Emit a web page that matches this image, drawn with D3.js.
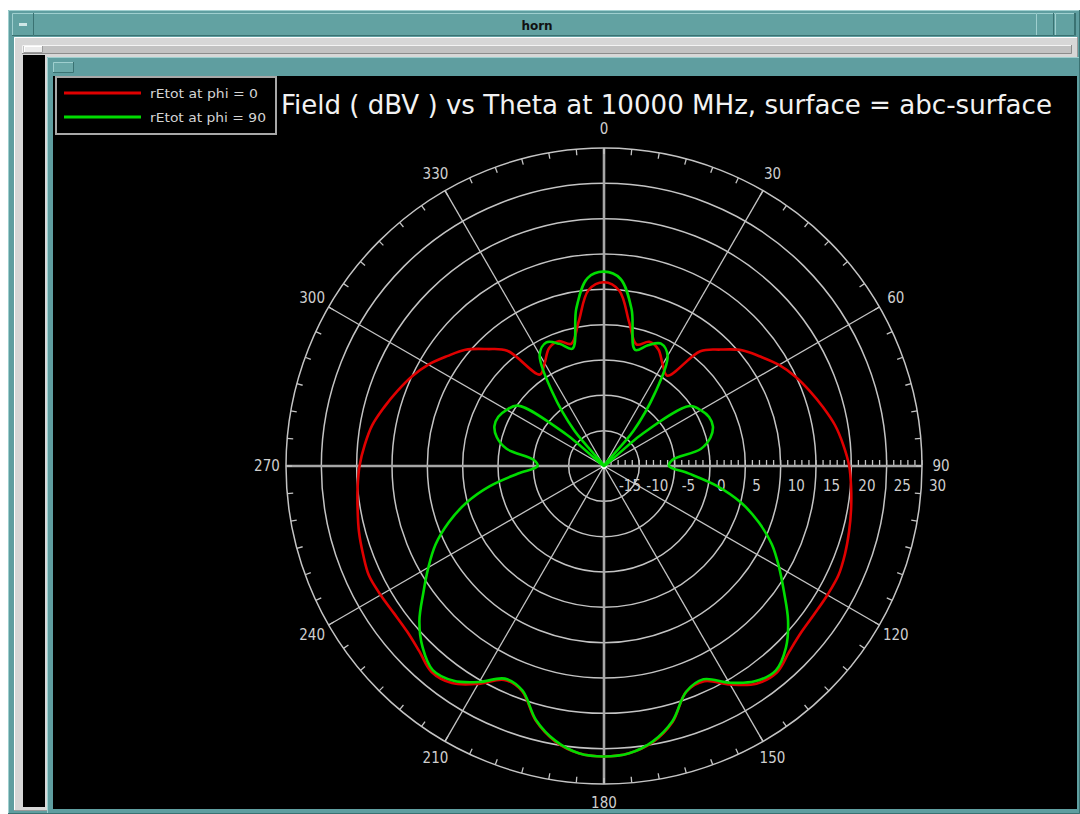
<!DOCTYPE html>
<html>
<head>
<meta charset="utf-8">
<script src="https://cdn.jsdelivr.net/npm/d3@7"></script>
<style>
  body { margin: 0; background: #fff; }
  svg { display: block; }
</style>
</head>
<body>
<svg width="1080" height="814"></svg>
<script>
// theta in degrees, clockwise from top
const thetaDeg = [0, 5, 10, 15, 20, 25, 30, 35, 40, 45, 50, 55, 60, 65, 70, 75, 80, 85,
                  90, 95, 100, 105, 110, 115, 120, 125, 130, 135, 140, 145, 150, 155, 160, 165, 170, 175,
                  180, 185, 190, 195, 200, 205, 210, 215, 220, 225, 230, 235, 240, 245, 250, 255, 260, 265,
                  270, 275, 280, 285, 290, 295, 300, 305, 310, 315, 320, 325, 330, 335, 340, 345, 350, 355];

// rEtot at phi = 0 (dBV)
const redDb = [11.0, 9.9, 5.6, 2.8, 3.7, 3.2, 1.6, 0.6, 6.2, 8.3, 10.5, 12.0, 13.6, 14.9, 16.0, 17.1, 18.2, 19.0,
               19.7, 20.1, 20.5, 20.9, 21.3, 21.6, 21.5, 21.4, 21.5, 22.1, 23.1, 22.6, 20.7, 18.6, 19.0, 22.5, 24.7, 25.8,
               26.1, 25.8, 24.6, 22.3, 18.9, 18.4, 20.6, 22.5, 23.0, 22.0, 21.4, 21.3, 21.5, 21.7, 21.3, 20.9, 20.4, 20.0,
               19.6, 19.0, 18.3, 17.2, 16.1, 15.0, 13.7, 12.1, 10.6, 8.4, 6.3, 0.8, 1.8, 3.4, 3.8, 2.9, 5.7, 10.0];

// rEtot at phi = 90 (dBV)
const greenDb = [12.5, 11.6, 7.5, 2.0, 3.2, 4.1, 3.0, -2.5, -8.5, -15, -8.0, -0.2, 0.8, 1.4, 1.4, 0.6, -1.1, -5.3,
                 -5.8, -3.0, 1.2, 5.1, 8.3, 11.2, 13.6, 16.1, 19.0, 21.4, 22.8, 22.2, 20.4, 18.3, 19.0, 22.4, 24.6, 25.8,
                 26.1, 25.8, 24.5, 22.2, 18.8, 18.2, 20.3, 22.1, 22.7, 21.3, 19.1, 16.2, 13.7, 11.3, 8.4, 5.2, 1.4, -2.8,
                 -5.6, -5.0, -1.0, 0.7, 1.5, 1.5, 0.9, -0.1, -8.0, -15, -8.5, -2.3, 3.2, 4.3, 3.4, 2.2, 7.6, 11.7];

const ringDb = [-10, -5, 0, 5, 10, 15, 20, 25, 30];
const radialLabels = [-15, -10, -5, 0, 5, 10, 15, 20, 25, 30];
const spokeDeg = [0, 30, 60, 90, 120, 150, 180, 210, 240, 270, 300, 330];
const legendLabels = ["rEtot at phi = 0", "rEtot at phi = 90"];
const seriesColors = ["#e00000", "#00dc00"];
const titleText = "Field ( dBV ) vs Theta at 10000 MHz, surface = abc-surface";
const windowTitle = "horn";

const svg = d3.select("svg");
const CX = 604, CY = 466, R = 318;
const TEAL = "#5f9ea0", TEAL_LT = "#9fcfcf", TEAL_DK = "#3a7272";
const GRID = "#c4c4c4";
const FONT = "'Liberation Sans Narrow', 'DejaVu Sans Condensed', 'DejaVu Sans', sans-serif";

// ---- window frame ----
function bevel(x, y, w, h, fill, lt, dk) {
    svg.append("rect").attr("x", x).attr("y", y).attr("width", w).attr("height", h).attr("fill", fill);
    svg.append("path").attr("d", `M${x + 0.5},${y + h} V${y + 0.5} H${x + w}`)
       .attr("fill", "none").attr("stroke", lt);
    svg.append("path").attr("d", `M${x + w - 0.5},${y} V${y + h - 0.5} H${x}`)
       .attr("fill", "none").attr("stroke", dk);
}

svg.append("rect").attr("width", 1080).attr("height", 814).attr("fill", "#fff");
bevel(8, 10, 1072, 804, TEAL, TEAL_LT, TEAL_DK);
bevel(12, 13, 1064, 23, "#62a2a2", TEAL_LT, TEAL_DK);
bevel(12, 13, 22, 23, "#62a2a2", TEAL_LT, TEAL_DK);
svg.append("rect").attr("x", 19).attr("y", 23).attr("width", 8).attr("height", 3).attr("fill", "#cfe6e6");
bevel(1036, 13, 18, 23, "#62a2a2", TEAL_LT, TEAL_DK);
bevel(1055, 13, 20, 23, "#62a2a2", TEAL_LT, TEAL_DK);
svg.append("text").attr("x", 537).attr("y", 30).attr("text-anchor", "middle")
   .attr("font-family", "'DejaVu Sans', sans-serif").attr("font-weight", "bold")
   .attr("font-size", 12).attr("fill", "#111").text(windowTitle);

bevel(14, 37, 1064, 774, "#d7d7d7", "#ffffff", "#9a9a9a");
bevel(22, 45, 1050, 9, "#c2c2c2", "#f4f4f4", "#8c8c8c");
bevel(24, 46, 19, 7, "#ececec", "#ffffff", "#9a9a9a");
svg.append("rect").attr("x", 23).attr("y", 55).attr("width", 22).attr("height", 752).attr("fill", "#000");

bevel(47, 57, 1033, 757, TEAL, TEAL_LT, TEAL_DK);
bevel(53, 62, 21, 11, "#6aa8a8", TEAL_LT, TEAL_DK);
svg.append("rect").attr("x", 53).attr("y", 76).attr("width", 1024).attr("height", 733).attr("fill", "#000");

// ---- title ----
svg.append("text").attr("x", 281).attr("y", 114)
   .attr("font-family", FONT).attr("font-size", 27).attr("fill", "#f2f2f2")
   .attr("textLength", 771).attr("lengthAdjust", "spacingAndGlyphs")
   .text(titleText);

// ---- polar grid ----
const rScale = d3.scaleLinear().domain([-15, 30]).range([0, R]).clamp(true);
const rad = d => d * Math.PI / 180;
const px = (deg, r) => CX + r * Math.sin(rad(deg));
const py = (deg, r) => CY - r * Math.cos(rad(deg));

const grid = svg.append("g");

grid.selectAll("circle.ring").data(ringDb).enter().append("circle")
    .attr("cx", CX).attr("cy", CY).attr("r", d => rScale(d))
    .attr("fill", "none").attr("stroke", GRID).attr("stroke-width", 1.5);

grid.selectAll("line.spoke").data(spokeDeg).enter().append("line")
    .attr("x1", CX).attr("y1", CY)
    .attr("x2", d => px(d, R)).attr("y2", d => py(d, R))
    .attr("stroke", d => d % 90 === 0 ? "#a6a6a6" : GRID)
    .attr("stroke-width", d => d % 90 === 0 ? 2.6 : 1.3);

// angular ticks on outer circle
grid.selectAll("line.atick").data(d3.range(0, 360, 5)).enter().append("line")
    .attr("x1", d => px(d, R)).attr("y1", d => py(d, R))
    .attr("x2", d => px(d, R - 6)).attr("y2", d => py(d, R - 6))
    .attr("stroke", GRID).attr("stroke-width", 1.3);

// radial minor ticks along the 90 degree axis
grid.selectAll("line.rtick").data(rScale.ticks(45)).enter().append("line")
    .attr("x1", d => CX + rScale(d)).attr("x2", d => CX + rScale(d))
    .attr("y1", CY - 1).attr("y2", CY - 6)
    .attr("stroke", GRID).attr("stroke-width", 1.3);

grid.append("circle").attr("cx", CX).attr("cy", CY).attr("r", 3).attr("fill", "#fff");

grid.selectAll("text.rlab").data(radialLabels).enter().append("text")
    .attr("x", d => CX + Math.max(rScale(d), 8) + 7).attr("y", CY + 25)
    .attr("font-family", FONT).attr("font-size", 15).attr("fill", "#cfcfcf")
    .text(d => d);

grid.selectAll("text.alab").data(spokeDeg).enter().append("text")
    .attr("x", d => px(d, 337)).attr("y", d => py(d, 337))
    .attr("text-anchor", "middle").attr("dominant-baseline", "central")
    .attr("font-family", FONT).attr("font-size", 15).attr("fill", "#cfcfcf")
    .text(d => d);

// ---- pattern curves ----
const lineGen = d3.lineRadial()
    .angle(d => rad(d[0]))
    .radius(d => rScale(d[1]))
    .curve(d3.curveCatmullRomClosed.alpha(0.5));

const series = [redDb, greenDb];
svg.append("g").attr("transform", `translate(${CX},${CY})`)
   .selectAll("path").data(series).enter().append("path")
   .attr("d", vals => lineGen(thetaDeg.map((t, i) => [t, vals[i]])))
   .attr("fill", "none")
   .attr("stroke", (d, i) => seriesColors[i])
   .attr("stroke-width", 2.6)
   .attr("stroke-linejoin", "round");

// ---- legend ----
const legend = svg.append("g");
legend.append("rect").attr("x", 56).attr("y", 77).attr("width", 220).attr("height", 57)
      .attr("fill", "#000").attr("stroke", "#a8a8a8").attr("stroke-width", 2);
legendLabels.forEach((lab, i) => {
    const y = 93 + i * 24;
    legend.append("line").attr("x1", 64).attr("x2", 141).attr("y1", y).attr("y2", y)
          .attr("stroke", seriesColors[i]).attr("stroke-width", 3);
    legend.append("text").attr("x", 150).attr("y", y + 5)
          .attr("font-family", FONT).attr("font-size", 13).attr("fill", "#d4d4d4")
          .attr("textLength", i === 0 ? 108 : 116).attr("lengthAdjust", "spacingAndGlyphs")
          .text(lab);
});
</script>
</body>
</html>
